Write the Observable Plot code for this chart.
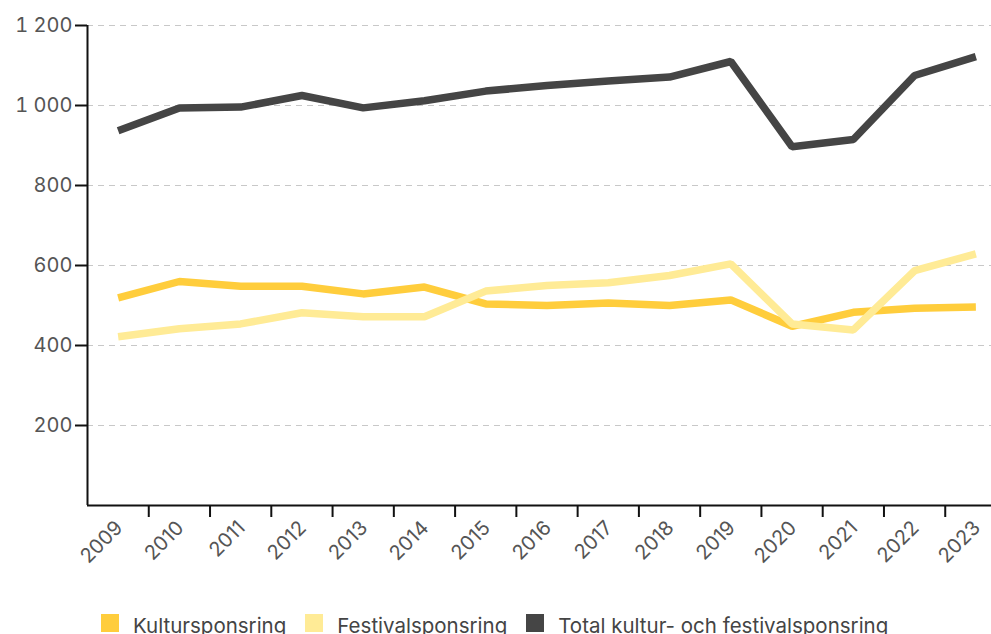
<!DOCTYPE html>
<html>
<head>
<meta charset="utf-8">
<script src="https://cdn.jsdelivr.net/npm/d3@7"></script>
<script src="https://cdn.jsdelivr.net/npm/@observablehq/plot@0.6"></script>
<style>
  html, body { margin: 0; padding: 0; background: #fff; }
  #wrap { position: relative; width: 991px; height: 634px; overflow: hidden; font-family: Inter, "Noto Sans", sans-serif; }
  #legend { position: absolute; left: 101px; top: 614px; display: flex; align-items: center; font-size: 20.5px; line-height: 18px; color: #444; white-space: nowrap; }
  .item { display: flex; align-items: center; margin-right: 19px; }
  .item span { position: relative; top: 3px; }
  .sw { width: 18px; height: 18px; margin-right: 14px; flex: none; }
</style>
</head>
<body>
<div id="wrap">
  <div id="chart"></div>
  <div id="legend"></div>
</div>
<script>
const years = [2009, 2010, 2011, 2012, 2013, 2014, 2015, 2016, 2017, 2018, 2019, 2020, 2021, 2022, 2023];
const seriesNames = ["Kultursponsring", "Festivalsponsring", "Total kultur- och festivalsponsring"];
const kultur = [519, 560, 548, 548, 529, 546, 504, 500, 506, 500, 514, 448, 483, 493, 496];
const festival = [422, 442, 454, 482, 472, 472, 536, 550, 557, 575, 604, 454, 439, 587, 629];
const total = [937, 994, 996, 1025, 994, 1012, 1036, 1050, 1061, 1071, 1110, 897, 915, 1075, 1122];
const yTicks = [200, 400, 600, 800, 1000, 1200];
const colors = ["#FFCD3C", "#FFEB96", "#454545"];

const seriesValues = [kultur, festival, total];
const data = seriesNames.flatMap((name, i) =>
  years.map((year, j) => ({year, value: seriesValues[i][j], series: name})));
const boundaries = years.slice(1).map(y => y - 0.5);
const xDomain = [years[0] - 0.5, years[years.length - 1] + 0.5];
const fmt = d3.format(",d");
const fmtSv = (d) => fmt(d).replace(/,/g, " ");

const chart = Plot.plot({
  width: 991,
  height: 590,
  marginLeft: 87,
  marginRight: 0,
  marginTop: 25,
  marginBottom: 85,
  style: {fontFamily: "Inter, 'Noto Sans', sans-serif", fontSize: "20px", color: "#555", background: "white", overflow: "visible"},
  x: {domain: xDomain, range: [87, 1006]},
  y: {domain: [0, 1200]},
  color: {domain: seriesNames, range: colors},
  marks: [
    Plot.gridY(yTicks, {stroke: "#c8c8c8", strokeOpacity: 1, strokeDasharray: "6,5", strokeWidth: 1}),
    Plot.axisY(yTicks, {tickSize: 12, tickPadding: 3, tickFormat: fmtSv, stroke: "#111", strokeWidth: 2, fill: "#555", label: null, fontSize: 20}),
    Plot.axisX(boundaries, {tickSize: 12, tickFormat: () => "", stroke: "#111", strokeWidth: 2, label: null}),
    Plot.text(years, {x: d => d, y: 0, text: d => String(d), rotate: -45, textAnchor: "end", dy: 19, dx: 1, fill: "#555", fontSize: 20}),
    Plot.lineY(data, {x: "year", y: "value", z: "series", stroke: "series", strokeWidth: 7.5, strokeLinejoin: "miter", strokeLinecap: "butt"}),
    Plot.ruleY([0], {stroke: "#111", strokeWidth: 2}),
    Plot.ruleX([xDomain[0]], {stroke: "#111", strokeWidth: 2})
  ]
});
document.getElementById("chart").appendChild(chart);

const legend = document.getElementById("legend");
seriesNames.forEach((name, i) => {
  const item = document.createElement("div");
  item.className = "item";
  const sw = document.createElement("div");
  sw.className = "sw";
  sw.style.background = colors[i];
  const label = document.createElement("span");
  label.textContent = name;
  item.appendChild(sw);
  item.appendChild(label);
  legend.appendChild(item);
});
</script>
</body>
</html>
